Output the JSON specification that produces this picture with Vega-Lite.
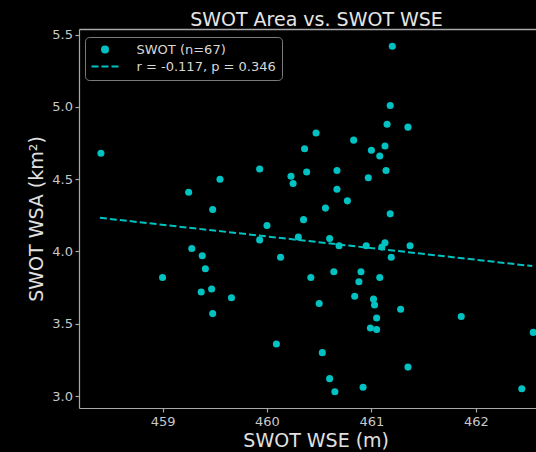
{
  "$schema": "https://vega.github.io/schema/vega-lite/v6.json",
  "width": 457,
  "height": 379,
  "autosize": {"type": "none"},
  "padding": {"left": 79, "top": 29, "right": 0, "bottom": 44},
  "background": "#000000",
  "title": {"text": "SWOT Area vs. SWOT WSE", "color": "#e6e6e6", "font": "DejaVu Sans", "fontSize": 19, "fontWeight": "normal", "offset": -16, "dx": 9, "baseline": "alphabetic"},
  "config": {
    "view": {"stroke": null},
    "axis": {"grid": false, "domainColor": "#a8a8a8", "tickColor": "#a8a8a8", "labelColor": "#c8c8c8", "titleColor": "#e0e0e0", "labelFont": "DejaVu Sans", "titleFont": "DejaVu Sans", "labelFontSize": 13, "titleFontSize": 19, "titleFontWeight": "normal", "tickSize": 4, "domainWidth": 1.2, "tickWidth": 1.2}
  },
  "datasets": {
    "pts": [
      {"wse": 458.41, "wsa": 4.68}, {"wse": 459.55, "wsa": 4.50}, {"wse": 459.25, "wsa": 4.41}, {"wse": 459.48, "wsa": 4.29},
      {"wse": 459.28, "wsa": 4.02}, {"wse": 459.38, "wsa": 3.97}, {"wse": 459.41, "wsa": 3.88}, {"wse": 459.00, "wsa": 3.82},
      {"wse": 459.47, "wsa": 3.74}, {"wse": 459.37, "wsa": 3.72}, {"wse": 459.66, "wsa": 3.68}, {"wse": 459.48, "wsa": 3.57},
      {"wse": 459.93, "wsa": 4.57}, {"wse": 459.93, "wsa": 4.08}, {"wse": 461.20, "wsa": 5.42}, {"wse": 461.18, "wsa": 5.01},
      {"wse": 461.15, "wsa": 4.88}, {"wse": 461.35, "wsa": 4.86}, {"wse": 460.47, "wsa": 4.82}, {"wse": 460.83, "wsa": 4.77},
      {"wse": 460.36, "wsa": 4.71}, {"wse": 461.00, "wsa": 4.70}, {"wse": 461.13, "wsa": 4.73}, {"wse": 461.08, "wsa": 4.66},
      {"wse": 460.23, "wsa": 4.52}, {"wse": 460.25, "wsa": 4.47}, {"wse": 460.38, "wsa": 4.55}, {"wse": 460.67, "wsa": 4.56},
      {"wse": 460.97, "wsa": 4.51}, {"wse": 461.14, "wsa": 4.56}, {"wse": 460.67, "wsa": 4.43}, {"wse": 460.77, "wsa": 4.35},
      {"wse": 460.56, "wsa": 4.30}, {"wse": 460.35, "wsa": 4.22}, {"wse": 461.18, "wsa": 4.26}, {"wse": 460.00, "wsa": 4.18},
      {"wse": 460.30, "wsa": 4.10}, {"wse": 460.60, "wsa": 4.09}, {"wse": 460.69, "wsa": 4.04}, {"wse": 460.95, "wsa": 4.04},
      {"wse": 461.13, "wsa": 4.06}, {"wse": 461.10, "wsa": 4.03}, {"wse": 461.37, "wsa": 4.04}, {"wse": 460.13, "wsa": 3.96},
      {"wse": 461.19, "wsa": 3.96}, {"wse": 460.42, "wsa": 3.82}, {"wse": 460.64, "wsa": 3.86}, {"wse": 460.90, "wsa": 3.86},
      {"wse": 460.88, "wsa": 3.79}, {"wse": 461.08, "wsa": 3.82}, {"wse": 460.84, "wsa": 3.69}, {"wse": 460.50, "wsa": 3.64},
      {"wse": 461.02, "wsa": 3.67}, {"wse": 461.03, "wsa": 3.63}, {"wse": 461.28, "wsa": 3.60}, {"wse": 461.05, "wsa": 3.54},
      {"wse": 461.86, "wsa": 3.55}, {"wse": 460.99, "wsa": 3.47}, {"wse": 461.05, "wsa": 3.46}, {"wse": 460.09, "wsa": 3.36},
      {"wse": 462.55, "wsa": 3.44}, {"wse": 460.53, "wsa": 3.30}, {"wse": 461.35, "wsa": 3.20}, {"wse": 460.60, "wsa": 3.12},
      {"wse": 460.65, "wsa": 3.03}, {"wse": 460.92, "wsa": 3.06}, {"wse": 462.44, "wsa": 3.05}
    ],
    "fit": [
      {"wse": 458.40, "wsa": 4.233},
      {"wse": 462.54, "wsa": 3.899}
    ]
  },
  "resolve": {"axis": {"x": "independent"}},
  "layer": [
    {
      "data": {"name": "pts"},
      "mark": {"type": "circle", "size": 50, "opacity": 1},
      "encoding": {
        "x": {"field": "wse", "type": "quantitative",
          "scale": {"domain": [458.2, 462.576], "nice": false, "zero": false},
          "axis": {"values": [459, 460, 461, 462], "format": "d", "title": "SWOT WSE (m)", "labelPadding": 3, "titleX": 236.7, "titleY": 38, "titleBaseline": "alphabetic"}},
        "y": {"field": "wsa", "type": "quantitative",
          "scale": {"domain": [2.917, 5.539], "nice": false, "zero": false},
          "axis": {"values": [3, 3.5, 4, 4.5, 5, 5.5], "format": ".1f", "title": "SWOT WSA (km²)", "labelPadding": 2.5, "titleX": -36.3, "titleBaseline": "alphabetic"}},
        "color": {"datum": "SWOT (n=67)", "type": "nominal",
          "scale": {"domain": ["SWOT (n=67)", "r = -0.117, p = 0.346"], "range": ["#00c2c2", "#00c2c2"]},
          "legend": {
            "title": null, "orient": "none", "legendX": 6, "legendY": 8,
            "fillColor": "#000000", "strokeColor": "#7a7a7a", "cornerRadius": 4, "padding": 6,
            "labelColor": "#d8d8d8", "labelFont": "DejaVu Sans", "labelFontSize": 13, "labelOffset": 25, "rowPadding": 3, "symbolOffset": 7.5,
            "encode": {"symbols": {"update": {
              "shape": {"signal": "datum.label === 'SWOT (n=67)' ? 'circle' : 'stroke'"},
              "size": {"signal": "datum.label === 'SWOT (n=67)' ? 64 : 729"},
              "strokeDash": {"signal": "datum.label === 'SWOT (n=67)' ? [1,0] : [7,3]"},
              "fill": {"signal": "datum.label === 'SWOT (n=67)' ? '#00c2c2' : 'transparent'"},
              "stroke": {"value": "#00c2c2"},
              "strokeWidth": {"signal": "datum.label === 'SWOT (n=67)' ? 0 : 2"},
              "opacity": {"value": 1}
            }}}
          }}
      }
    },
    {
      "data": {"name": "fit"},
      "mark": {"type": "line", "strokeDash": [7, 3], "strokeWidth": 2},
      "encoding": {
        "x": {"field": "wse", "type": "quantitative",
          "axis": {"orient": "top", "labels": false, "ticks": false, "title": null, "domain": true, "domainColor": "#a8a8a8", "domainWidth": 1.4, "minExtent": 0, "maxExtent": 0}},
        "y": {"field": "wsa", "type": "quantitative"},
        "color": {"datum": "r = -0.117, p = 0.346", "type": "nominal",
          "legend": {
            "title": null, "orient": "none", "legendX": 6, "legendY": 8,
            "fillColor": "#000000", "strokeColor": "#7a7a7a", "cornerRadius": 4, "padding": 6,
            "labelColor": "#d8d8d8", "labelFont": "DejaVu Sans", "labelFontSize": 13, "labelOffset": 25, "rowPadding": 3, "symbolOffset": 7.5,
            "encode": {"symbols": {"update": {
              "shape": {"signal": "datum.label === 'SWOT (n=67)' ? 'circle' : 'stroke'"},
              "size": {"signal": "datum.label === 'SWOT (n=67)' ? 64 : 729"},
              "strokeDash": {"signal": "datum.label === 'SWOT (n=67)' ? [1,0] : [7,3]"},
              "fill": {"signal": "datum.label === 'SWOT (n=67)' ? '#00c2c2' : 'transparent'"},
              "stroke": {"value": "#00c2c2"},
              "strokeWidth": {"signal": "datum.label === 'SWOT (n=67)' ? 0 : 2"},
              "opacity": {"value": 1}
            }}}
          }}
      }
    }
  ]
}
